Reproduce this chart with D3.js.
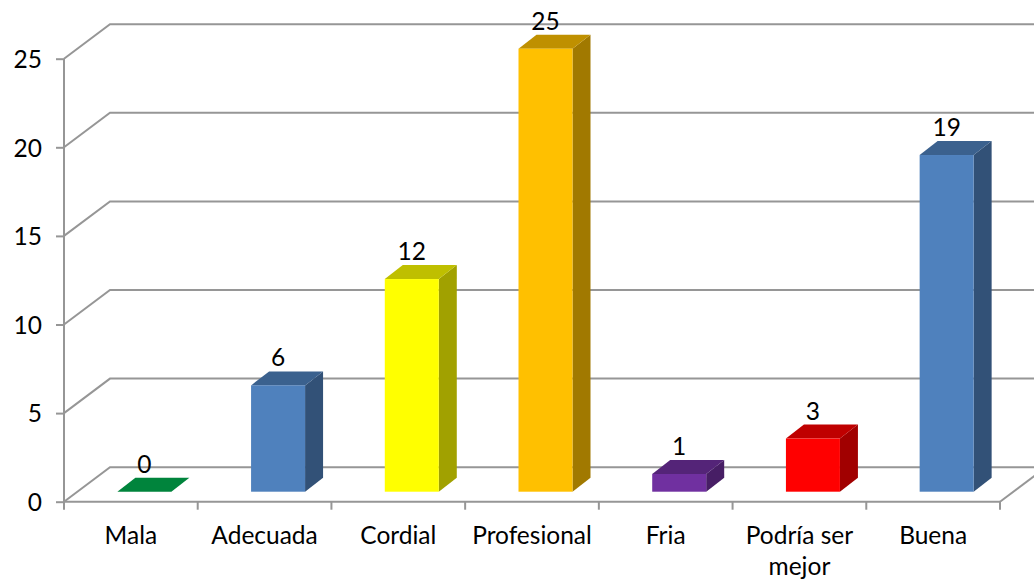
<!DOCTYPE html>
<html>
<head>
<meta charset="utf-8">
<script src="https://cdn.jsdelivr.net/npm/d3@7"></script>
<style>
  html, body { margin: 0; padding: 0; background: #fff; overflow: hidden; }
  text { font-family: Lato, "Open Sans", sans-serif; fill: #000; }
</style>
</head>
<body>
<div id="vis"></div>
<script>
const categories = ["Mala", "Adecuada", "Cordial", "Profesional", "Fria", "Podría ser mejor", "Buena"];
const values = [0, 6, 12, 25, 1, 3, 19];
const frontColors = ["#00b050", "#4f81bd", "#ffff00", "#ffc000", "#7030a0", "#ff0000", "#4f81bd"];
const yTicks = [0, 5, 10, 15, 20, 25];

const width = 1034, height = 580;
const gridColor = "#969696";
const fontSize = "24.5px";
// depth of the floor and of the bars
const wallDx = 46, wallDy = -34.5;
const barDx = 18, barDy = -14;
const barWidth = 54, barLift = 10, barShift = 13.5;

const svg = d3.select("#vis").append("svg").attr("width", width).attr("height", height);

const x = d3.scaleBand().domain(categories).range([64, 1000]);
const y = d3.scaleLinear().domain([0, 25]).range([501.7, 58.7]);

// same hue, just scaled down for the shaded faces
const shade = (color, k) => {
  const c = d3.rgb(color);
  return d3.rgb(c.r * k, c.g * k, c.b * k);
};

// back wall gridlines with their diagonal on the side wall
svg.selectAll(".grid")
  .data(yTicks)
  .enter()
  .append("path")
  .attr("class", "grid")
  .attr("fill", "none")
  .attr("stroke", gridColor)
  .attr("stroke-width", 2)
  .attr("d", d => `M64,${y(d)}L${64 + wallDx},${y(d) + wallDy}H${1000 + wallDx}`);

// floor right edge
svg.append("line")
  .attr("x1", 1000).attr("y1", y(0))
  .attr("x2", 1000 + wallDx).attr("y2", y(0) + wallDy)
  .attr("stroke", gridColor).attr("stroke-width", 2);

// axes
const axisLeft = d3.axisLeft(y).tickValues(yTicks).tickSize(8).tickPadding(14);
const gy = svg.append("g").attr("transform", "translate(64,0)").call(axisLeft);
gy.selectAll("path").remove();
gy.append("line").attr("y1", y(25)).attr("y2", y(0)).attr("stroke", gridColor).attr("stroke-width", 2);
gy.selectAll(".tick line").attr("stroke", gridColor).attr("stroke-width", 2);
gy.selectAll("text").style("font-size", fontSize).attr("dy", "0.36em");

const gx = svg.append("g").attr("transform", `translate(0,${y(0)})`);
gx.append("line").attr("x1", 63).attr("x2", 1000).attr("stroke", gridColor).attr("stroke-width", 2);
gx.selectAll(".tick")
  .data(d3.range(categories.length + 1))
  .enter()
  .append("line")
  .attr("class", "tick")
  .attr("x1", d => 64 + d * x.bandwidth())
  .attr("x2", d => 64 + d * x.bandwidth())
  .attr("y1", 0).attr("y2", 8)
  .attr("stroke", gridColor).attr("stroke-width", 2);

// category labels, long ones wrap on two lines
const labelLines = d => d === "Podría ser mejor" ? ["Podría ser", "mejor"] : [d];
gx.selectAll(".cat")
  .data(categories)
  .enter()
  .append("text")
  .attr("class", "cat")
  .attr("text-anchor", "middle")
  .style("font-size", fontSize)
  .each(function(d) {
    labelLines(d).forEach((line, i) => {
      d3.select(this).append("tspan")
        .attr("x", x(d) + x.bandwidth() / 2)
        .attr("y", 42 + i * 31)
        .text(line);
    });
  });

// bars: top and side faces are the front colour darkened
const bars = svg.selectAll(".bar")
  .data(categories.map((c, i) => ({ c, v: values[i], color: frontColors[i] })))
  .enter()
  .append("g")
  .attr("class", "bar");

const left = d => x(d.c) + barShift + (x.bandwidth() - barWidth) / 2;
const topY = d => y(d.v) - barLift;
const baseY = () => y(0) - barLift;

bars.append("path")
  .attr("fill", d => shade(d.color, 0.63))
  .attr("d", d => `M${left(d) + barWidth},${baseY()}l${barDx},${barDy}V${topY(d) + barDy}l${-barDx},${-barDy}Z`);

bars.append("path")
  .attr("fill", d => shade(d.color, 0.75))
  .attr("d", d => `M${left(d)},${topY(d)}l${barDx},${barDy}h${barWidth}l${-barDx},${-barDy}Z`);

bars.filter(d => d.v > 0).append("rect")
  .attr("x", left)
  .attr("y", topY)
  .attr("width", barWidth)
  .attr("height", d => baseY() - topY(d))
  .attr("fill", d => d.color);

// data labels
bars.append("text")
  .attr("x", d => left(d) + barWidth / 2)
  .attr("y", d => topY(d) + barDy - 5)
  .attr("text-anchor", "middle")
  .style("font-size", fontSize)
  .text(d => d.v);
</script>
</body>
</html>
